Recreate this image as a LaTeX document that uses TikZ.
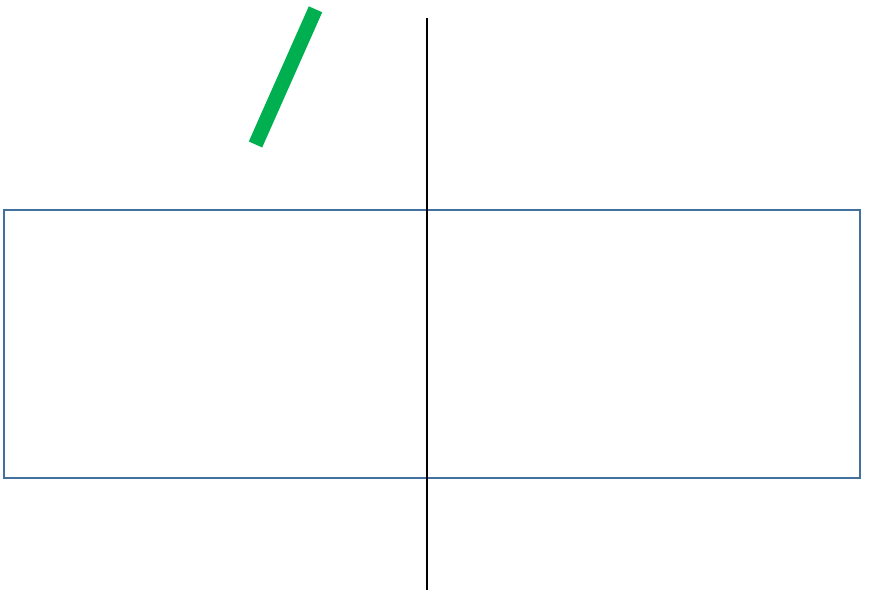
\documentclass[tikz,border=0pt]{standalone}
\usetikzlibrary{positioning}
\definecolor{frameBlue}{HTML}{41719C}
\definecolor{markGreen}{HTML}{00B050}

\begin{document}
\begin{tikzpicture}[
    x=0.75pt, y=-0.75pt,
    frame/.style={draw=frameBlue, line width=2pt},
    axis/.style={draw=black, line width=0.8pt},
    stroke/.style={draw=markGreen, line width=11pt},
  ]
    \useasboundingbox (0,0) rectangle (871,591);

    % box
    \draw[frame] (4,210) rectangle (860,478);

    % vertical line
    \coordinate (top) at (427,18);
    \coordinate (bottom) at (427,590);
    \draw[axis] (top) -- (bottom);

    % green stroke
    \coordinate (g1) at (315.5,9.3);
    \coordinate (g2) at (255.5,144.5);
    \draw[stroke] (g1) -- (g2);
  \end{tikzpicture}
\end{document}
